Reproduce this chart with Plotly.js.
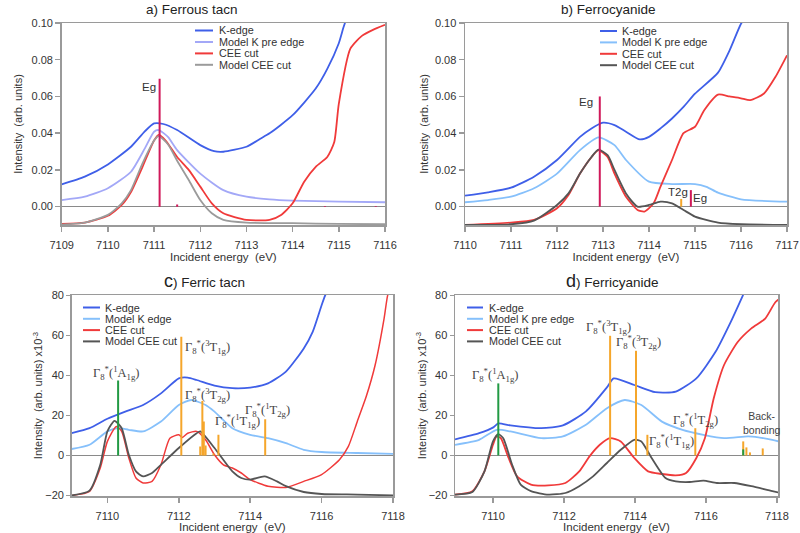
<!DOCTYPE html>
<html><head><meta charset="utf-8">
<script src="https://cdn.plot.ly/plotly-3.0.1.min.js"></script>
<style>html,body{margin:0;padding:0;background:#fff}#chart{width:800px;height:533px}</style>
</head><body><div id="chart"></div>
<script>
// ---------- Panel a) Ferrous tacn ----------
const aE_k = [7109,7109.5,7110,7110.5,7110.8,7111,7111.2,7111.5,7112,7112.3,7112.5,7113,7113.3,7113.5,7114,7114.5,7114.75,7115,7115.1,7115.2];
const aK   = [0.0121,0.0163,0.023,0.0326,0.041,0.0453,0.045,0.0417,0.0335,0.0302,0.0299,0.0326,0.037,0.0399,0.0498,0.0643,0.075,0.089,0.0975,0.105];
const aE_m = [7109,7109.5,7110,7110.5,7110.8,7111,7111.1,7111.3,7111.5,7112,7112.5,7113,7113.5,7114,7115,7116];
const aM   = [0.0036,0.0054,0.010,0.019,0.0317,0.0408,0.0417,0.038,0.0308,0.018,0.009,0.0054,0.004,0.0033,0.0027,0.0024];
const aE_c = [7109,7109.5,7110,7110.3,7110.5,7110.75,7111,7111.1,7111.25,7111.5,7111.75,7112,7112.25,7112.5,7113,7113.5,7113.75,7114,7114.25,7114.5,7114.75,7114.9,7115,7115.25,7115.5,7115.75,7116];
const aC   = [-0.0094,-0.0087,-0.005,0.0009,0.008,0.0217,0.036,0.039,0.036,0.027,0.020,0.0109,0.0018,-0.0036,-0.0072,-0.0072,-0.0045,0.0018,0.0136,0.0217,0.027,0.035,0.056,0.086,0.093,0.0964,0.099];
const aE_g = [7109,7109.5,7110,7110.3,7110.5,7110.75,7111,7111.1,7111.3,7111.5,7111.75,7112,7112.25,7112.5,7113,7114,7115,7116];
const aG   = [-0.0098,-0.0087,-0.0045,0.0018,0.009,0.0236,0.036,0.0384,0.034,0.025,0.0145,0.0036,-0.0036,-0.0072,-0.0087,-0.009,-0.0094,-0.0096];
const aStickE = [7111.12,7111.5,7114.7,7115.8];
const aStickH = [0.0697,0.0012,0.0004,0.0004];

// ---------- Panel b) Ferrocyanide ----------
const bE_k = [7110,7110.5,7111,7111.5,7112,7112.5,7112.75,7113,7113.25,7113.5,7113.8,7114,7114.25,7114.5,7114.75,7115,7115.5,7115.75,7116,7116.1];
const bK   = [0.006,0.0078,0.0103,0.0163,0.0254,0.038,0.0426,0.0457,0.0444,0.0408,0.0366,0.038,0.0426,0.048,0.0543,0.0615,0.073,0.085,0.0996,0.103];
const bE_m = [7110,7110.5,7111,7111.5,7112,7112.5,7112.9,7113.25,7113.5,7114,7114.5,7115,7115.25,7115.5,7116,7117];
const bM   = [0.0024,0.0036,0.0054,0.010,0.018,0.0308,0.0377,0.0335,0.0254,0.0136,0.0123,0.0123,0.0108,0.0076,0.004,0.0027];
const bE_c = [7110,7111,7111.5,7112,7112.25,7112.5,7112.75,7112.9,7113.1,7113.25,7113.5,7113.75,7113.9,7114.1,7114.25,7114.5,7114.75,7115,7115.2,7115.5,7115.75,7116,7116.2,7116.5,7116.75,7117];
const bC   = [-0.01,-0.0087,-0.0072,-0.0009,0.0063,0.018,0.027,0.0308,0.027,0.018,0.0054,-0.0018,-0.0027,0.0018,0.0109,0.0254,0.040,0.0435,0.0525,0.061,0.060,0.059,0.058,0.0616,0.0707,0.0824];
const bE_g = [7110,7111,7111.5,7112,7112.25,7112.5,7112.75,7112.9,7113.1,7113.25,7113.5,7113.75,7114,7114.25,7114.5,7114.75,7115,7115.5,7116,7117];
const bG   = [-0.01,-0.0096,-0.0076,0.0009,0.0072,0.018,0.027,0.031,0.028,0.020,0.0072,0.0,0.0009,0.0027,0.0018,-0.0018,-0.0054,-0.0087,-0.0096,-0.01];
const bStickE = [7112.93,7114.91];
const bStickH = [0.060,0.009];
const bT2gE = [7114.7];
const bT2gH = [0.0042];

// ---------- Panel c) Ferric tacn (x10^-3) ----------
const cE_k = [7109,7109.5,7110,7110.5,7111,7111.5,7112,7112.25,7112.5,7113,7113.5,7114,7114.5,7115,7115.5,7115.75,7116,7116.1,7116.3];
const cK   = [11.1,13.6,18.3,21.9,25.2,31,38.5,38.9,37.7,34.9,33.6,33.9,36,41.9,53.5,61.8,75.1,80,88];
const cE_m = [7109,7109.5,7110,7110.3,7110.6,7111,7111.5,7112,7112.35,7112.75,7113,7113.5,7114,7114.5,7115,7115.5,7116,7117,7118];
const cM   = [3.2,5.3,12,13.6,12.8,12,16.9,25.2,27.7,25.2,21.9,13.6,10.3,8.6,6.1,2.8,1.7,1.2,0.8];
const cE_c = [7109,7109.5,7109.8,7110,7110.25,7110.4,7110.6,7110.8,7111,7111.25,7111.5,7111.75,7112,7112.1,7112.25,7112.5,7112.75,7113,7113.25,7113.5,7113.75,7114,7114.5,7115,7115.5,7116,7116.5,7116.75,7117,7117.25,7117.5,7117.75,7117.85,7118];
const cC   = [-20,-18,-6.3,7,14.5,12,-1.3,-11.3,-13.8,-13,-4.7,8.6,10.3,9,11.1,12,7.8,0.3,-4.7,-6.3,-8.8,-12.1,-15.4,-16,-13,-9.6,-2.2,4.5,17,29.4,45.2,68.4,80,88];
const cE_g = [7109,7109.5,7109.8,7110,7110.2,7110.4,7110.6,7110.8,7111,7111.25,7111.5,7112,7112.5,7112.6,7113,7113.5,7113.75,7114,7114.4,7114.75,7115,7115.5,7116,7117,7118];
const cG   = [-20,-17.6,-4.7,12,17.3,13.6,0.3,-8,-10.5,-8.8,-4.7,3.7,11.1,12,3.7,-8,-11.3,-12.1,-10.5,-13,-15.4,-18.3,-19.3,-19.6,-20];
const cGreenE = [7110.3];
const cGreenH = [37.5];
const cOrangeE = [7112.07,7112.6,7112.66,7112.7,7112.75,7112.97,7113.11,7114.42];
const cOrangeH = [59.3,4.5,27.2,17,5,1,10.3,18.1];

// ---------- Panel d) Ferricyanide (x10^-3) ----------
const dE_k = [7108.93,7109.61,7110.01,7110.15,7110.49,7111.36,7111.97,7112.62,7113.21,7113.4,7113.98,7114.57,7115.15,7115.73,7116.27,7116.7,7117.04,7117.19];
const dK   = [8.0,11.1,14,16,15,13.6,15,22,34,38.5,35.2,31.6,31.9,38.5,51.8,66.8,80,86];
const dE_m = [7108.93,7109.61,7110.1,7110.49,7111.36,7111.97,7112.62,7113.21,7113.71,7114.18,7114.76,7115.34,7115.93,7116.51,7117.19,7117.48,7117.87,7118.24];
const dM   = [5.3,7.8,12.8,12,8.6,9.5,15.3,23.6,27.7,25.2,16.9,12.8,10.3,8.6,9.5,9,7.8,6.1];
const dE_c = [7108.93,7109.42,7109.76,7110.0,7110.1,7110.22,7110.44,7110.68,7111.07,7111.56,7112.04,7112.43,7112.72,7113.01,7113.3,7113.6,7113.98,7114.37,7114.76,7115.15,7115.44,7115.73,7115.97,7116.22,7116.51,7116.9,7117.28,7117.67,7117.96,7118.24];
const dC   = [-19.6,-17.9,-8,5.3,9.5,8.6,-1.3,-10.5,-14.6,-15,-13.8,-8,-0.5,5.3,8.6,7,-1.3,-8,-9.3,-10,-8.8,-1.3,8.6,28.6,45.2,56.8,63.5,68.4,76.7,80.4];
const dE_g = [7108.93,7109.42,7109.76,7110.0,7110.15,7110.29,7110.54,7110.78,7111.07,7111.56,7112.04,7112.43,7112.82,7113.21,7113.6,7113.98,7114.18,7114.47,7114.86,7115.15,7115.54,7115.93,7116.31,7116.8,7117.28,7117.87,7118.24];
const dG   = [-19.6,-18.3,-8,7,10.6,8.6,-4.7,-14.6,-17.9,-19.6,-18.8,-15.4,-10.5,-3.8,2.8,7.8,7,-1.3,-11.3,-13,-13.3,-12.6,-13.8,-13.8,-15.4,-17.9,-19.3];
const dGreenE = [7110.15,7117.05];
const dGreenH = [36,3];
const dOrangeE = [7113.3,7114.03,7114.35,7115.7,7117.05,7117.14,7117.24,7117.6];
const dOrangeH = [59.8,52.3,10.3,13.6,7,4,1.5,3.5];

// ---------- Text ----------
const panelTitles = ['a) Ferrous tacn','b) Ferrocyanide','<span style="font-size:18px">c</span>) Ferric tacn','<span style="font-size:18px">d</span>) Ferricyanide'];
const legendA = ['K-edge','Model K pre edge','CEE cut','Model CEE cut'];
const legendB = ['K-edge','Model K pre edge','CEE cut','Model CEE cut'];
const legendC = ['K-edge','Model K edge','CEE cut','Model CEE cut'];
const legendD = ['K-edge','Model K pre edge','CEE cut','Model CEE cut'];
const xTitle = 'Incident energy\u00a0 (eV)';
const yTitleTop = 'Intensity\u00a0 (arb. units)';
const yTitleBot = 'Intensity\u00a0 (arb. units) x10<sup>-3</sup>';

const G = (t)=>'\u0393<sub>8</sub><sup>*</sup>(<sup>'+t[0]+'</sup>'+t[1]+'<sub>'+t[2]+'</sub>)';
const cLabels = [
  {t:['1','A','1g'], x:7110.24, y:41, anchor:'center'},
  {t:['3','T','1g'], x:7112.12, y:54, anchor:'left'},
  {t:['3','T','2g'], x:7112.12, y:30, anchor:'left'},
  {t:['1','T','1g'], x:7112.95, y:17, anchor:'left'},
  {t:['1','T','2g'], x:7113.8, y:22.8, anchor:'left'}
];
const dLabels = [
  {t:['1','A','1g'], x:7110.05, y:40.2, anchor:'center'},
  {t:['3','T','1g'], x:7113.25, y:64.3, anchor:'center'},
  {t:['3','T','2g'], x:7114.1, y:56.8, anchor:'center'},
  {t:['1','T','2g'], x:7115.7, y:17.8, anchor:'center'},
  {t:['1','T','1g'], x:7115.02, y:7, anchor:'center'}
];

// ---------- Styles ----------
const FONT = 'Liberation Sans, Arial, sans-serif';
const SERIF = 'Liberation Serif, Times New Roman, serif';
const BLUE = '#3f5fe8', LAV = '#a3a8f7', SKY = '#86c0fb', RED = '#f03a3a', GRAYL = '#9b9b9b', GRAYD = '#555555';
const CRIMSON = '#d0195a', ORANGE = '#f5a62b', GREEN = '#229a44';
const W = 800, H = 533;

function curve(x, y, color, xa, ya, w) {
  return {type:'scatter', mode:'lines', x:x, y:y, xaxis:xa, yaxis:ya,
    line:{color:color, width:w||1.8, shape:'spline', smoothing:0.6}, showlegend:false, hoverinfo:'skip'};
}
function sticks(E, Hh, color, xa, ya, w) {
  const xs = [], ys = [];
  for (let i = 0; i < E.length; i++) { xs.push(E[i], E[i], null); ys.push(0, Hh[i], null); }
  return {type:'scatter', mode:'lines', x:xs, y:ys, xaxis:xa, yaxis:ya,
    line:{color:color, width:w||2}, showlegend:false, hoverinfo:'skip'};
}

const traces = [
  curve(aE_k,aK,BLUE,'x','y'), curve(aE_m,aM,LAV,'x','y'), curve(aE_c,aC,RED,'x','y'), curve(aE_g,aG,GRAYL,'x','y'),
  sticks(aStickE,aStickH,CRIMSON,'x','y',2),
  curve(bE_k,bK,BLUE,'x2','y2'), curve(bE_m,bM,SKY,'x2','y2'), curve(bE_c,bC,RED,'x2','y2'), curve(bE_g,bG,GRAYD,'x2','y2'),
  sticks(bStickE,bStickH,CRIMSON,'x2','y2',2), sticks(bT2gE,bT2gH,ORANGE,'x2','y2',2),
  curve(cE_k,cK,BLUE,'x3','y3'), curve(cE_m,cM,SKY,'x3','y3'), curve(cE_c,cC,RED,'x3','y3',1.5), curve(cE_g,cG,GRAYD,'x3','y3'),
  sticks(cOrangeE,cOrangeH,ORANGE,'x3','y3',2), sticks(cGreenE,cGreenH,GREEN,'x3','y3',2),
  curve(dE_k,dK,BLUE,'x4','y4'), curve(dE_m,dM,SKY,'x4','y4'), curve(dE_c,dC,RED,'x4','y4'), curve(dE_g,dG,GRAYD,'x4','y4'),
  sticks(dOrangeE,dOrangeH,ORANGE,'x4','y4',2), sticks(dGreenE,dGreenH,GREEN,'x4','y4',2)
];

const tf = {family:FONT, size:11, color:'#333'};
function xa(dom, range, dtick, tick0, anchor) {
  return {domain:[dom[0]/W, dom[1]/W], range:range, dtick:dtick, tick0:tick0, anchor:anchor,
    showline:true, linecolor:'#9a9a9a', linewidth:1.5, mirror:true, ticks:'outside', ticklen:5, tickwidth:1.5, tickcolor:'#9a9a9a',
    showgrid:false, zeroline:false, tickfont:tf, ticklabelstandoff:4,
    title:{text:xTitle, font:{family:FONT, size:11.5, color:'#333'}, standoff:2}};
}
function ya(dom, range, dtick, fmt, anchor, title, standoff) {
  return {domain:[1-dom[1]/H, 1-dom[0]/H], range:range, dtick:dtick, tick0:0, tickformat:fmt, anchor:anchor,
    showline:true, linecolor:'#9a9a9a', linewidth:1.5, mirror:true, ticks:'outside', ticklen:5, tickwidth:1.5, tickcolor:'#9a9a9a',
    showgrid:false, zeroline:true, zerolinecolor:'#8a8a8a', zerolinewidth:1.5, tickfont:tf,
    title:{text:title, font:{family:FONT, size:11, color:'#333'}, standoff:standoff}};
}
function yin(over, anchor, range, dtick) {
  return {overlaying:over, anchor:anchor, side:'right', range:range, dtick:dtick, tick0:0, ticks:'inside', ticklen:5, tickwidth:1.5,
    tickcolor:'#9a9a9a', showticklabels:false, showline:false, showgrid:false, zeroline:false};
}

const domA = {x:[61.7,385], y:[23,225]};
const domB = {x:[465,787], y:[23,225]};
const domC = {x:[71.7,393], y:[295,496]};
const domD = {x:[455,778], y:[295,496]};
const rTop = [-0.01, 0.1], rBot = [-20.3, 80.2];

const annotations = [];
const shapes = [];
function pxX(p){return p/W;} function pxY(p){return 1-p/H;}

// panel titles
[[192,9],[608,9],[205,281],[612,281]].forEach((p,i)=>{
  annotations.push({xref:'paper', yref:'paper', x:pxX(p[0]), y:pxY(p[1]), xanchor:'center', yanchor:'middle',
    text:panelTitles[i], showarrow:false, font:{family:FONT, size:13.5, color:'#222'}});
});

// legends
function legend(names, colors, x0, x1, tx, ys) {
  names.forEach((n,i)=>{
    shapes.push({type:'line', xref:'paper', yref:'paper', x0:pxX(x0), x1:pxX(x1), y0:pxY(ys[i]), y1:pxY(ys[i]),
      line:{color:colors[i], width:2}});
    annotations.push({xref:'paper', yref:'paper', x:pxX(tx), y:pxY(ys[i]), xanchor:'left', yanchor:'middle',
      text:n, showarrow:false, font:{family:FONT, size:10.8, color:'#333'}});
  });
}
legend(legendA, [BLUE,LAV,RED,GRAYL], 195, 213, 217, [30.5,42,53.4,64.8]);
legend(legendB, [BLUE,SKY,RED,GRAYD], 600, 617, 620, [31,42.4,53.8,65.2]);
legend(legendC, [BLUE,SKY,RED,GRAYD], 83, 100, 103, [307.5,318.8,330.1,341.4]);
legend(legendD, [BLUE,SKY,RED,GRAYD], 467, 483, 487, [307.5,318.8,330.1,341.4]);

// stick labels
const sf = {family:FONT, size:11.5, color:'#333'};
annotations.push({xref:'x', yref:'y', x:7110.88, y:0.0649, text:'Eg', showarrow:false, font:sf});
annotations.push({xref:'x2', yref:'y2', x:7112.62, y:0.057, text:'Eg', showarrow:false, font:sf});
annotations.push({xref:'x2', yref:'y2', x:7114.62, y:0.0078, text:'T2g', showarrow:false, font:sf});
annotations.push({xref:'x2', yref:'y2', x:7115.1, y:0.0049, text:'Eg', showarrow:false, font:sf});
const gf = {family:SERIF, size:12.5, color:'#444'};
cLabels.forEach(l=>annotations.push({xref:'x3', yref:'y3', x:l.x, y:l.y, xanchor:l.anchor, yanchor:'middle', text:G(l.t), showarrow:false, font:gf}));
dLabels.forEach(l=>annotations.push({xref:'x4', yref:'y4', x:l.x, y:l.y, xanchor:l.anchor, yanchor:'middle', text:G(l.t), showarrow:false, font:gf}));
annotations.push({xref:'x4', yref:'y4', x:7117.58, y:16, text:'Back-<br>bonding', showarrow:false, font:{family:FONT, size:10.5, color:'#444'}});

const layout = {
  width:W, height:H, margin:{l:0, r:0, t:0, b:0}, paper_bgcolor:'#fff', plot_bgcolor:'#fff', showlegend:false,
  xaxis: xa(domA.x, [7109,7116], 1, 7109, 'y'),
  yaxis: ya(domA.y, rTop, 0.02, '.2f', 'x', yTitleTop, 6),
  xaxis2: xa(domB.x, [7110,7117], 1, 7110, 'y2'),
  yaxis2: ya(domB.y, rTop, 0.02, '.2f', 'x2', yTitleTop, 4),
  xaxis3: xa(domC.x, [7109,7118], 2, 7110, 'y3'),
  yaxis3: ya(domC.y, rBot, 20, '', 'x3', yTitleBot, 0),
  xaxis4: xa(domD.x, [7108.93,7118.03], 2, 7110, 'y4'),
  yaxis4: ya(domD.y, rBot, 20, '', 'x4', yTitleBot, 0),
  yaxis5: yin('y', 'x', rTop, 0.02),
  yaxis6: yin('y2', 'x2', rTop, 0.02),
  yaxis7: yin('y3', 'x3', rBot, 20),
  yaxis8: yin('y4', 'x4', rBot, 20),
  annotations: annotations,
  shapes: shapes
};
layout.yaxis3.ticklen = 4; layout.yaxis4.ticklen = 4;

Plotly.newPlot('chart', traces, layout, {staticPlot:true, displayModeBar:false});
</script></body></html>
